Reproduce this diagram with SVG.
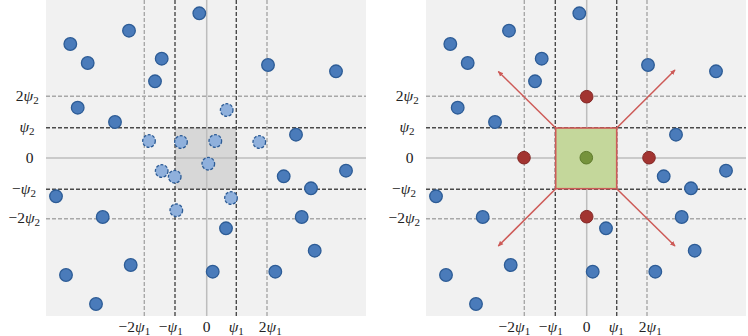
<svg xmlns="http://www.w3.org/2000/svg" width="748" height="336" viewBox="0 0 748 336">
<defs>
<style>
.bg{fill:#f1f1f1}
.ax{stroke:#bdbdbd;stroke-width:1.5;fill:none}
.g1{stroke:#4a4a4a;stroke-width:1.4;stroke-dasharray:4 2;fill:none}
.g2{stroke:#a8a8a8;stroke-width:1.4;stroke-dasharray:4 2;fill:none}
.d{fill:#4a7bba;stroke:#2d5c96;stroke-width:1.3}
.l{fill:#8fb0dc;stroke:#2d5c96;stroke-width:1.3;stroke-dasharray:3 1.6}
.r{fill:#a23431;stroke:#842826;stroke-width:1}
.gd{fill:#76933c;stroke:#5f7b2c;stroke-width:1}
.arr{stroke:#cd5a57;stroke-width:1.5;fill:none;marker-end:url(#ah)}
text{font-family:"Liberation Serif","DejaVu Serif",serif;font-size:15.5px;fill:#222}
.ps{font-style:italic}
.sb{font-size:11px}
</style>
<marker id="ah" viewBox="0 0 10 10" refX="8" refY="5" markerWidth="4" markerHeight="4" orient="auto" markerUnits="strokeWidth">
<path d="M0,1 L9,5 L0,9 Z" fill="#cd5a57"/>
</marker>
</defs>

<g id="left-panel">
<rect class="bg" x="46" y="0" width="320" height="316"/>
<rect x="175" y="127.7" width="61.3" height="61.6" fill="#d7d7d7"/>
<line class="ax" x1="206.7" y1="0" x2="206.7" y2="316"/>
<line class="ax" x1="46" y1="158" x2="366" y2="158"/>
<line class="g2" x1="144.3" y1="0" x2="144.3" y2="316"/>
<line class="g2" x1="267" y1="0" x2="267" y2="316"/>
<line class="g2" x1="46" y1="96.3" x2="366" y2="96.3"/>
<line class="g2" x1="46" y1="218.7" x2="366" y2="218.7"/>
<line class="g1" x1="175" y1="0" x2="175" y2="316"/>
<line class="g1" x1="236.3" y1="0" x2="236.3" y2="316"/>
<line class="g1" x1="46" y1="127.7" x2="366" y2="127.7"/>
<line class="g1" x1="46" y1="189.3" x2="366" y2="189.3"/>
<g id="left-points">
<circle class="d" cx="199.3" cy="13.3" r="6.3"/>
<circle class="d" cx="129" cy="30.7" r="6.3"/>
<circle class="d" cx="70.3" cy="44" r="6.3"/>
<circle class="d" cx="87.7" cy="63" r="6.3"/>
<circle class="d" cx="161.7" cy="58.7" r="6.3"/>
<circle class="d" cx="155" cy="81.3" r="6.3"/>
<circle class="d" cx="268" cy="65" r="6.3"/>
<circle class="d" cx="336" cy="71.3" r="6.3"/>
<circle class="d" cx="77.7" cy="107.7" r="6.3"/>
<circle class="d" cx="115" cy="122" r="6.3"/>
<circle class="d" cx="296" cy="134.7" r="6.3"/>
<circle class="d" cx="346" cy="170.7" r="6.3"/>
<circle class="d" cx="283.7" cy="176.3" r="6.3"/>
<circle class="d" cx="311" cy="188.3" r="6.3"/>
<circle class="d" cx="56" cy="196.3" r="6.3"/>
<circle class="d" cx="102.7" cy="217" r="6.3"/>
<circle class="d" cx="301.7" cy="217" r="6.3"/>
<circle class="d" cx="226" cy="228.3" r="6.3"/>
<circle class="d" cx="314.7" cy="250.7" r="6.3"/>
<circle class="d" cx="130.7" cy="265" r="6.3"/>
<circle class="d" cx="66" cy="275" r="6.3"/>
<circle class="d" cx="212.7" cy="271.7" r="6.3"/>
<circle class="d" cx="275.3" cy="271.7" r="6.3"/>
<circle class="d" cx="96" cy="304" r="6.3"/>
<circle class="l" cx="226.7" cy="110" r="6.3"/>
<circle class="l" cx="149" cy="141" r="6.3"/>
<circle class="l" cx="181" cy="142" r="6.3"/>
<circle class="l" cx="215.3" cy="141" r="6.3"/>
<circle class="l" cx="259.3" cy="142" r="6.3"/>
<circle class="l" cx="208.3" cy="163.7" r="6.3"/>
<circle class="l" cx="161.7" cy="171" r="6.3"/>
<circle class="l" cx="174.7" cy="176.7" r="6.3"/>
<circle class="l" cx="231" cy="198" r="6.3"/>
<circle class="l" cx="176.3" cy="210.3" r="6.3"/>
</g>
<g id="left-labels">
<text x="27.3" y="101" text-anchor="middle">2<tspan class="ps">ψ</tspan><tspan class="sb" dy="3">2</tspan></text>
<text x="27" y="132" text-anchor="middle"><tspan class="ps">ψ</tspan><tspan class="sb" dy="3">2</tspan></text>
<text x="29.7" y="162.7" text-anchor="middle">0</text>
<text x="24" y="194" text-anchor="middle">−<tspan class="ps">ψ</tspan><tspan class="sb" dy="3">2</tspan></text>
<text x="24.3" y="223.3" text-anchor="middle">−2<tspan class="ps">ψ</tspan><tspan class="sb" dy="3">2</tspan></text>
<text x="134.4" y="332" text-anchor="middle">−2<tspan class="ps">ψ</tspan><tspan class="sb" dy="3">1</tspan></text>
<text x="170.7" y="332" text-anchor="middle">−<tspan class="ps">ψ</tspan><tspan class="sb" dy="3">1</tspan></text>
<text x="206.7" y="332" text-anchor="middle">0</text>
<text x="236.2" y="332" text-anchor="middle"><tspan class="ps">ψ</tspan><tspan class="sb" dy="3">1</tspan></text>
<text x="270.2" y="332" text-anchor="middle">2<tspan class="ps">ψ</tspan><tspan class="sb" dy="3">1</tspan></text>
</g>
</g>

<g id="right-panel" transform="translate(380,0)">
<rect class="bg" x="46" y="0" width="320" height="316"/>
<line class="ax" x1="206.7" y1="0" x2="206.7" y2="316"/>
<line class="ax" x1="46" y1="158" x2="366" y2="158"/>
<line class="g2" x1="144.3" y1="0" x2="144.3" y2="316"/>
<line class="g2" x1="267" y1="0" x2="267" y2="316"/>
<line class="g2" x1="46" y1="96.3" x2="366" y2="96.3"/>
<line class="g2" x1="46" y1="218.7" x2="366" y2="218.7"/>
<line class="g1" x1="175.3" y1="0" x2="175.3" y2="316"/>
<line class="g1" x1="236.7" y1="0" x2="236.7" y2="316"/>
<line class="g1" x1="46" y1="127.7" x2="366" y2="127.7"/>
<line class="g1" x1="46" y1="189.3" x2="366" y2="189.3"/>
<g id="right-points">
<circle class="d" cx="199.3" cy="13.3" r="6.3"/>
<circle class="d" cx="129" cy="30.7" r="6.3"/>
<circle class="d" cx="70.3" cy="44" r="6.3"/>
<circle class="d" cx="87.7" cy="63" r="6.3"/>
<circle class="d" cx="161.7" cy="58.7" r="6.3"/>
<circle class="d" cx="155" cy="81.3" r="6.3"/>
<circle class="d" cx="268" cy="65" r="6.3"/>
<circle class="d" cx="336" cy="71.3" r="6.3"/>
<circle class="d" cx="77.7" cy="107.7" r="6.3"/>
<circle class="d" cx="115" cy="122" r="6.3"/>
<circle class="d" cx="296" cy="134.7" r="6.3"/>
<circle class="d" cx="346" cy="170.7" r="6.3"/>
<circle class="d" cx="283.7" cy="176.3" r="6.3"/>
<circle class="d" cx="311" cy="188.3" r="6.3"/>
<circle class="d" cx="56" cy="196.3" r="6.3"/>
<circle class="d" cx="102.7" cy="217" r="6.3"/>
<circle class="d" cx="301.7" cy="217" r="6.3"/>
<circle class="d" cx="226" cy="228.3" r="6.3"/>
<circle class="d" cx="314.7" cy="250.7" r="6.3"/>
<circle class="d" cx="130.7" cy="265" r="6.3"/>
<circle class="d" cx="66" cy="275" r="6.3"/>
<circle class="d" cx="212.7" cy="271.7" r="6.3"/>
<circle class="d" cx="275.3" cy="271.7" r="6.3"/>
<circle class="d" cx="96" cy="304" r="6.3"/>
</g>
<g id="box">
<rect x="175.7" y="128" width="61" height="60.7" fill="#c4d79b" stroke="#cd5a57" stroke-width="1.6"/>
<circle class="gd" cx="206.3" cy="157.7" r="6.3"/>
</g>
<g id="neighbours">
<circle class="r" cx="206.7" cy="96.7" r="6.3"/>
<circle class="r" cx="144" cy="157.7" r="6.3"/>
<circle class="r" cx="269" cy="157.7" r="6.3"/>
<circle class="r" cx="206.7" cy="216.7" r="6.3"/>
</g>
<g id="right-labels">
<text x="27.3" y="101" text-anchor="middle">2<tspan class="ps">ψ</tspan><tspan class="sb" dy="3">2</tspan></text>
<text x="27" y="132" text-anchor="middle"><tspan class="ps">ψ</tspan><tspan class="sb" dy="3">2</tspan></text>
<text x="29.7" y="162.7" text-anchor="middle">0</text>
<text x="24" y="194" text-anchor="middle">−<tspan class="ps">ψ</tspan><tspan class="sb" dy="3">2</tspan></text>
<text x="24.3" y="223.3" text-anchor="middle">−2<tspan class="ps">ψ</tspan><tspan class="sb" dy="3">2</tspan></text>
<text x="134.4" y="332" text-anchor="middle">−2<tspan class="ps">ψ</tspan><tspan class="sb" dy="3">1</tspan></text>
<text x="170.7" y="332" text-anchor="middle">−<tspan class="ps">ψ</tspan><tspan class="sb" dy="3">1</tspan></text>
<text x="206.7" y="332" text-anchor="middle">0</text>
<text x="236.2" y="332" text-anchor="middle"><tspan class="ps">ψ</tspan><tspan class="sb" dy="3">1</tspan></text>
<text x="270.2" y="332" text-anchor="middle">2<tspan class="ps">ψ</tspan><tspan class="sb" dy="3">1</tspan></text>
</g>
</g>

<g id="connectors">
<line class="arr" x1="555.7" y1="128" x2="498.3" y2="71.5"/>
<line class="arr" x1="616.7" y1="128" x2="675" y2="70"/>
<line class="arr" x1="555.7" y1="188.7" x2="498.3" y2="246"/>
<line class="arr" x1="616.7" y1="188.7" x2="675" y2="246"/>
</g>
</svg>
